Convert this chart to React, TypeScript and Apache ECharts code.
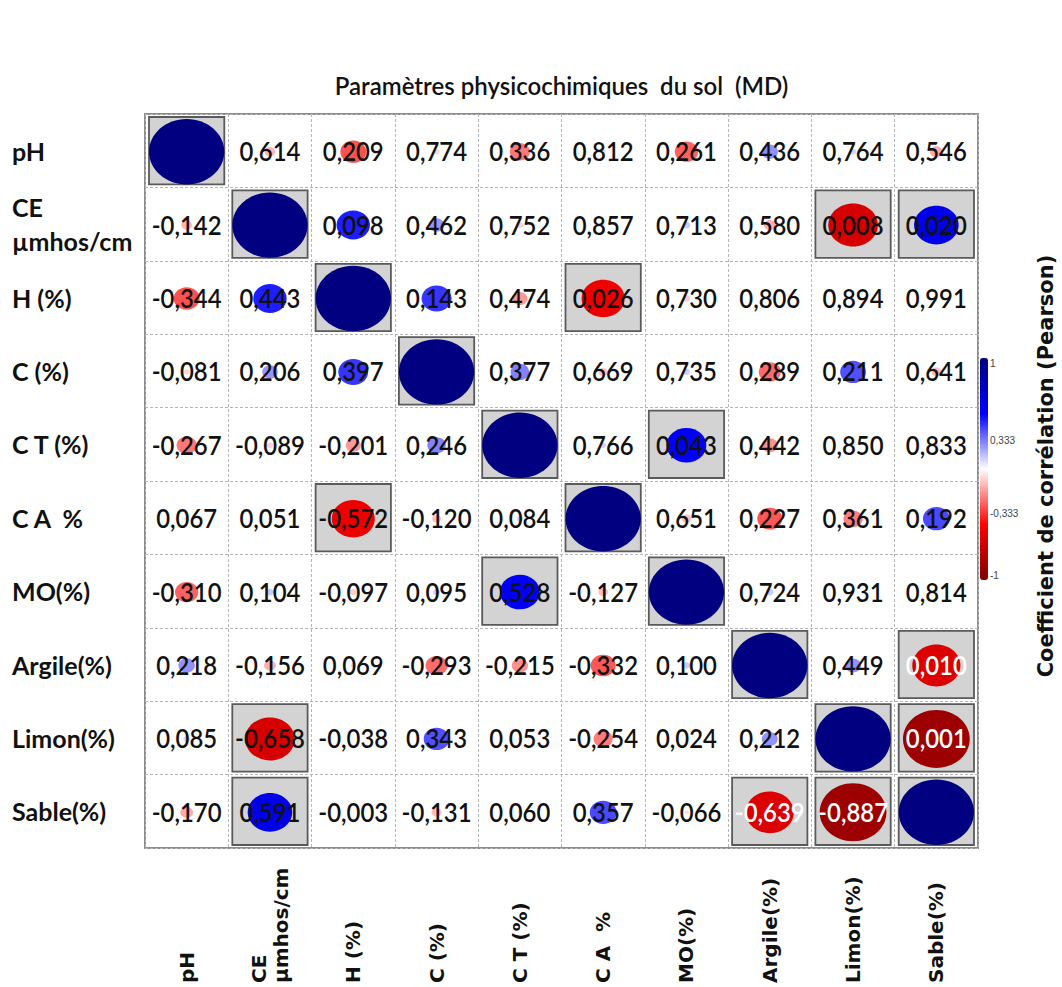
import React, { useEffect, useRef } from 'react';
import * as echarts from 'echarts';

// ---------- data ----------
const variables = [
  'pH',
  'CE\nµmhos/cm',
  'H (%)',
  'C (%)',
  'C T (%)',
  'C A\u00a0 %',
  'MO(%)',
  'Argile(%)',
  'Limon(%)',
  'Sable(%)',
];

// Pearson r, lower triangle (row i, columns 0..i-1)
const lowerR: number[][] = [
  [],
  [-0.142],
  [-0.344, 0.443],
  [-0.081, 0.206, 0.397],
  [-0.267, -0.089, -0.201, 0.246],
  [0.067, 0.051, -0.572, -0.12, 0.084],
  [-0.31, 0.104, -0.097, 0.095, 0.528, -0.127],
  [0.218, -0.156, 0.069, -0.293, -0.215, -0.332, 0.1],
  [0.085, -0.658, -0.038, 0.343, 0.053, -0.254, 0.024, 0.212],
  [-0.17, 0.591, -0.003, -0.131, 0.06, 0.357, -0.066, -0.639, -0.887],
];

// p-values, upper triangle (row i, columns i+1..9)
const upperP: number[][] = [
  [0.614, 0.209, 0.774, 0.336, 0.812, 0.261, 0.436, 0.764, 0.546],
  [0.098, 0.462, 0.752, 0.857, 0.713, 0.58, 0.008, 0.02],
  [0.143, 0.474, 0.026, 0.73, 0.806, 0.894, 0.991],
  [0.377, 0.669, 0.735, 0.289, 0.211, 0.641],
  [0.766, 0.043, 0.442, 0.85, 0.833],
  [0.651, 0.227, 0.361, 0.192],
  [0.724, 0.931, 0.814],
  [0.449, 0.01],
  [0.001],
  [],
];

// cells [row, col] whose number is written in white
const whiteTextCells: [number, number][] = [
  [9, 7],
  [9, 8],
  [7, 9],
  [8, 9],
];

const legendTicks = [1, 0.333, -0.333, -1];
const chartTitle = 'Paramètres physicochimiques\u00a0 du sol\u00a0 (MD)';
const colorbarTitle = 'Coefficient de corrélation (Pearson)';
const alpha = 0.05;

// ---------- helpers ----------
const fmt = (v: number) => v.toFixed(3).replace('.', ',');

type CellMeta = { label: string; sig: boolean; white: boolean };
const cellMeta: CellMeta[] = [];
const cellData: number[][] = [];
for (let i = 0; i < variables.length; i++) {
  for (let j = 0; j < variables.length; j++) {
    let r = 1;
    let label = '';
    let sig = true;
    if (i > j) {
      r = lowerR[i][j];
      const p = upperP[j][i - j - 1];
      label = fmt(r);
      sig = p < alpha;
    } else if (i < j) {
      r = lowerR[j][i];
      const p = upperP[i][j - i - 1];
      label = fmt(p);
      sig = p < alpha;
    }
    const white = whiteTextCells.some(([a, b]) => a === i && b === j);
    cellData.push([j, i, r]);
    cellMeta.push({ label, sig, white });
  }
}

const GRID = { left: 145, top: 114, width: 833, height: 734 };
const BAR = { left: 980, top: 358, width: 8, height: 222 };

export default function App() {
  const ref = useRef<HTMLDivElement>(null);

  useEffect(() => {
    if (!ref.current) return;
    const chart = echarts.init(ref.current, null, { renderer: 'svg' });

    const legendLabels = legendTicks.map((v) => {
      const y = BAR.top + ((1 - v) / 2) * BAR.height;
      const va = v === 1 ? 'top' : v === -1 ? 'bottom' : 'middle';
      return {
        type: 'text',
        x: BAR.left + BAR.width + 2,
        y: v === 1 || v === -1 ? y : y + 8,
        style: {
          text: v === 1 || v === -1 ? String(v) : fmt(v),
          fill: '#444',
          font: '10px "Liberation Sans"',
          textAlign: 'left',
          textVerticalAlign: va,
          align: 'left',
          verticalAlign: va,
        },
      };
    });

    const option: any = {
      animation: false,
      backgroundColor: '#ffffff',
      grid: {
        ...GRID,
        show: true,
        borderColor: '#8c8c8c',
        borderWidth: 2,
        backgroundColor: 'transparent',
      },
      xAxis: {
        type: 'category',
        data: variables,
        position: 'bottom',
        axisLine: { show: false },
        axisTick: { show: false },
        splitLine: {
          show: true,
          interval: 0,
          lineStyle: { color: '#b5b5b5', type: [3, 2], width: 1 },
        },
        axisLabel: {
          interval: 0,
          rotate: 90,
          align: 'left',
          verticalAlign: 'middle',
          margin: 135,
          fontFamily: 'DejaVu Sans',
          fontWeight: 'bold',
          fontSize: 20,
          color: '#111',
          lineHeight: 22,
          padding: [20, 0, 0, 0],
        },
      },
      yAxis: {
        type: 'category',
        data: variables,
        inverse: true,
        axisLine: { show: false },
        axisTick: { show: false },
        splitLine: {
          show: true,
          interval: 0,
          lineStyle: { color: '#b5b5b5', type: [3, 2], width: 1 },
        },
        axisLabel: {
          interval: 0,
          align: 'left',
          margin: 133,
          fontFamily: 'Lato',
          fontWeight: 'bold',
          fontSize: 25,
          color: '#111',
          lineHeight: 34,
        },
      },
      visualMap: {
        type: 'continuous',
        show: true,
        min: -1,
        max: 1,
        dimension: 2,
        seriesIndex: 0,
        orient: 'vertical',
        left: BAR.left,
        top: BAR.top,
        itemWidth: BAR.width,
        itemHeight: BAR.height,
        padding: 0,
        calculable: false,
        hoverLink: false,
        inRange: { color: ['#800000', '#ff0000', '#ffffff', '#0000ff', '#000080'] },
      },
      graphic: [
        {
          type: 'text',
          x: GRID.left + GRID.width / 2,
          y: 85,
          style: {
            text: chartTitle,
            fill: '#111',
            font: '600 24px Lato',
            textAlign: 'center',
            textVerticalAlign: 'middle',
            align: 'center',
            verticalAlign: 'middle',
          },
        },
        {
          type: 'text',
          x: 1046,
          y: 466,
          rotation: Math.PI / 2,
          style: {
            text: colorbarTitle,
            fill: '#111',
            font: 'bold 21px "DejaVu Sans"',
            textAlign: 'center',
            textVerticalAlign: 'middle',
            align: 'center',
            verticalAlign: 'middle',
          },
        },
        ...legendLabels,
      ],
      series: [
        {
          type: 'custom',
          coordinateSystem: 'cartesian2d',
          encode: { x: 0, y: 1 },
          data: cellData,
          renderItem: (params: any, api: any) => {
            const meta = cellMeta[params.dataIndex];
            const c = api.coord([api.value(0), api.value(1)]);
            const s = api.size([1, 1]);
            const w = s[0];
            const h = s[1];
            const r = api.value(2);
            const k = Math.abs(r);
            const children: any[] = [];
            if (meta.sig) {
              children.push({
                type: 'rect',
                shape: { x: c[0] - w / 2 + 4, y: c[1] - h / 2 + 3, width: w - 8, height: h - 6 },
                style: { fill: '#d3d3d3', stroke: '#5a5a5a', lineWidth: 1.8 },
              });
            }
            children.push({
              type: 'ellipse',
              shape: { cx: c[0], cy: c[1] + 1, rx: (w / 2 - 4) * k, ry: (h / 2 - 4) * k },
              style: { fill: api.visual('color') },
            });
            if (meta.label) {
              const fill = meta.white ? '#ffffff' : '#111111';
              children.push({
                type: 'text',
                x: c[0],
                y: c[1],
                scaleX: 0.92,
                style: {
                  text: meta.label,
                  x: 0,
                  y: 0,
                  fill,
                  font: '600 26px Lato',
                  textAlign: 'center',
                  textVerticalAlign: 'middle',
                  align: 'center',
                  verticalAlign: 'middle',
                },
              });
            }
            return { type: 'group', children };
          },
        },
      ],
    };

    chart.setOption(option);
    return () => chart.dispose();
  }, []);

  return (
    <div
      ref={ref}
      style={{ position: 'absolute', left: 0, top: 0, width: 1062, height: 987, background: '#fff' }}
    />
  );
}
